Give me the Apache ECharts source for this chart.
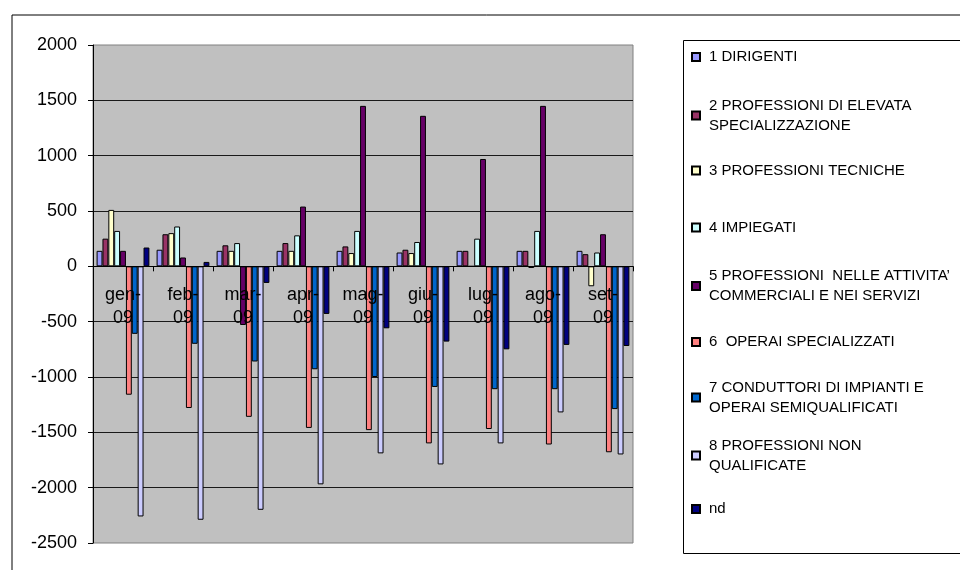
<!DOCTYPE html>
<html>
<head>
<meta charset="utf-8">
<script src="https://cdn.jsdelivr.net/npm/echarts@6.0.0/dist/echarts.min.js"></script>
<style>
html,body{margin:0;padding:0;background:#fff;}
#chart{width:960px;height:570px;}
</style>
</head>
<body>
<div id="chart"></div>
<script>
// ---- data ----
const categories = ['gen-09','feb-09','mar-09','apr-09','mag-09','giu-09','lug-09','ago-09','set-09'];
const seriesNames = [
  '1 DIRIGENTI',
  '2 PROFESSIONI DI ELEVATA\nSPECIALIZZAZIONE',
  '3 PROFESSIONI TECNICHE',
  '4 IMPIEGATI',
  '5 PROFESSIONI  NELLE ATTIVITA\u2019\nCOMMERCIALI E NEI SERVIZI',
  '6  OPERAI SPECIALIZZATI',
  '7 CONDUTTORI DI IMPIANTI E\nOPERAI SEMIQUALIFICATI',
  '8 PROFESSIONI NON\nQUALIFICATE',
  'nd'
];
const dirigenti      = [140, 150, 140, 140, 140, 125, 140, 140, 140];
const elevataSpec    = [250, 290, 190, 210, 180, 150, 140, 140, 110];
const tecniche       = [510, 300, 140, 140, 120, 120, 0, -15, -180];
const impiegati      = [320, 360, 210, 280, 320, 220, 250, 320, 125];
const commerciali    = [140, 80, -530, 540, 1450, 1360, 970, 1450, 290];
const operaiSpec     = [-1160, -1280, -1360, -1460, -1480, -1600, -1470, -1610, -1680];
const conduttori     = [-610, -700, -860, -930, -1000, -1090, -1110, -1110, -1290];
const nonQualificate = [-2260, -2290, -2200, -1970, -1690, -1790, -1600, -1320, -1700];
const nd             = [170, 40, -150, -430, -560, -680, -750, -710, -720];
const yMin = -2500, yMax = 2000, yStep = 500;

const seriesData = [dirigenti, elevataSpec, tecniche, impiegati, commerciali, operaiSpec, conduttori, nonQualificate, nd];
const colors = ['#9999FF','#993366','#FFFFCC','#CCFFFF','#660066','#FF8080','#0066CC','#CCCCFF','#000080'];

// ---- layout ----
const FONT = '"Liberation Sans", Arial, sans-serif';
const legendLineCenters = [57, 115.5, 170.5, 227.5, 286, 342, 397.5, 455.5, 509];
const GRID_TOP = 45, GRID_BOTTOM = 27, H = 570;
const gridH = H - GRID_TOP - GRID_BOTTOM;
// distance of the zero line above the bottom edge of the grid, from the axis range
const zeroOffset = gridH * (0 - yMin) / (yMax - yMin);

const chart = echarts.init(document.getElementById('chart'), null, {renderer: 'canvas'});

const option = {
  backgroundColor: '#ffffff',
  animation: false,
  textStyle: {fontFamily: FONT},
  grid: {
    left: 93, top: GRID_TOP, right: 327, bottom: GRID_BOTTOM,
    show: true, backgroundColor: '#C0C0C0', borderColor: '#808080', borderWidth: 1,
    containLabel: false, outerBoundsMode: 'none'
  },
  graphic: [
    {type: 'rect', left: 9.5, top: 12.5, shape: {x: 0, y: 0, width: 1000, height: 600},
     style: {fill: 'none', stroke: '#000', lineWidth: 1}, silent: true, z: -1},
    {type: 'rect', shape: {x: 683.5, y: 40.5, width: 300, height: 513},
     style: {fill: 'none', stroke: '#000', lineWidth: 1}, silent: true, z: -1}
  ],
  legend: seriesNames.map((n, i) => {
    const two = n.indexOf('\n') >= 0;
    return {
      show: true,
      orient: 'vertical',
      left: 691,
      top: legendLineCenters[i] - (two ? 30 : 10),
      padding: 0,
      itemWidth: 8,
      itemHeight: 8,
      icon: 'rect',
      data: [n],
      textStyle: {
        fontFamily: FONT, fontSize: 15, color: '#000', lineHeight: 20,
        padding: two ? [20, 0, 0, 4] : [0, 0, 0, 4]
      }
    };
  }),
  xAxis: {
    type: 'category',
    data: categories,
    position: 'bottom',
    offset: -zeroOffset,
    z: 5,
    axisLine: {show: true, onZero: false, lineStyle: {color: '#000', width: 1}},
    axisTick: {show: true, inside: false, length: 5, alignWithLabel: false, lineStyle: {color: '#000'}},
    axisLabel: {
      show: true, interval: 0, margin: 17,
      fontFamily: FONT, fontSize: 18, color: '#000', lineHeight: 23,
      formatter: v => v.replace('-', '-\n')
    },
    splitLine: {show: false}
  },
  yAxis: {
    type: 'value',
    min: yMin, max: yMax, interval: yStep,
    axisLine: {show: true, lineStyle: {color: '#000', width: 1}},
    axisTick: {show: true, inside: false, length: 5, lineStyle: {color: '#000'}},
    axisLabel: {show: true, margin: 16, fontFamily: FONT, fontSize: 18, color: '#000',
      formatter: v => String(v)},
    splitLine: {show: true, showMinLine: false, showMaxLine: false, lineStyle: {color: '#1a1a1a', width: 1}}
  },
  series: seriesNames.map((n, i) => ({
    name: n,
    type: 'bar',
    data: seriesData[i],
    barGap: '0%',
    barCategoryGap: '12%',
    itemStyle: {color: colors[i], borderColor: '#000', borderWidth: 1},
    emphasis: {disabled: true}
  }))
};

chart.setOption(option);
</script>
</body>
</html>
